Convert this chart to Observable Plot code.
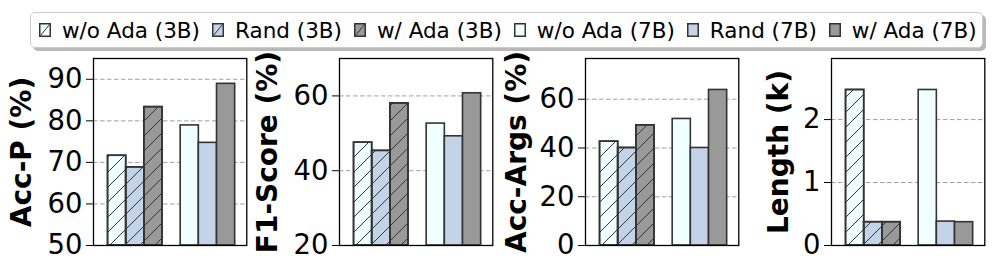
<!DOCTYPE html>
<html>
<head>
<meta charset="utf-8">
<script src="https://cdn.jsdelivr.net/npm/d3@7"></script>
<script src="https://cdn.jsdelivr.net/npm/@observablehq/plot@0.6"></script>
<style>
  body { margin: 0; background: #fff; font-family: "DejaVu Sans", sans-serif; }
  #wrap { position: relative; width: 996px; height: 274px; overflow: hidden; background: #fff; }
  #legend {
    position: absolute; left: 30px; top: 12px; width: 953px; height: 36px;
    box-sizing: border-box; border: 1px solid #cccccc; border-radius: 5px;
    box-shadow: 3px 3px 0 rgba(0,0,0,0.28); background: #fff;
    display: flex; align-items: center; padding-left: 8px;
    font-family: "DejaVu Sans"; font-size: 21.5px; color: #000; white-space: nowrap;
  }
  .item { display: inline-flex; align-items: center; margin-right: 12px; }
  .item svg { margin-right: 11px; display: block; }
</style>
</head>
<body>
<svg width="0" height="0" style="position:absolute">
  <defs>
    <pattern id="hatch" patternUnits="userSpaceOnUse" width="15" height="15">
      <path d="M-1,16 L16,-1 M-4,4 L4,-4 M11,19 L19,11" stroke="#333" stroke-width="1" fill="none"/>
    </pattern>
  </defs>
</svg>
<div id="wrap"><div id="legend"></div></div>
<script>
// ---- data ----
const groups = ["3B", "7B"];
const series = ["w/o Ada", "Rand", "w/ Ada"];
const seriesColors = ["#f0ffff", "#c4d4e8", "#999999"];

const accP3B = [71.6, 68.8, 83.3];
const accP7B = [78.9, 74.7, 88.9];
const accPTicks = [50, 60, 70, 80, 90];

const f13B = [47.5, 45.3, 58.0];
const f17B = [52.6, 49.2, 60.7];
const f1Ticks = [20, 40, 60];

const args3B = [42.6, 40.0, 49.3];
const args7B = [51.9, 40.0, 63.8];
const argsTicks = [0, 20, 40, 60];

const len3B = [2.47, 0.37, 0.37];
const len7B = [2.47, 0.38, 0.37];
const lenTicks = [0, 1, 2];

// ---- legend ----
const legend = document.getElementById("legend");
groups.forEach((g) => {
  series.forEach((s, si) => {
    const item = document.createElement("span");
    item.className = "item";
    const hatched = g === "3B";
    item.innerHTML =
      `<svg width="12" height="14"><rect x="0.75" y="0.75" width="10.5" height="12.5" fill="${seriesColors[si]}" stroke="#333" stroke-width="1.5"/>` +
      (hatched ? `<line x1="1.5" y1="12.5" x2="10.5" y2="1.5" stroke="#333" stroke-width="1"/>` : "") +
      `</svg><span>${s} (${g})</span>`;
    legend.appendChild(item);
  });
});

// ---- panels ----
const BAR_W = 0.25;
const ML = 92, MR = 4, MT = 4, MB = 24;
const FRAME_W = 153.3, FRAME_H = 187;

function rowsOf(v3, v7, base) {
  const rows = [];
  [v3, v7].forEach((vals, gi) => vals.forEach((v, si) => rows.push({
    group: groups[gi], series: series[si], value: v, base,
    pos: gi + (si - 1) * BAR_W, color: seriesColors[si], hatched: groups[gi] === "3B"
  })));
  return rows;
}

function panel({v3, v7, domain, ticks, label, frameLeft, labelOffset}) {
  const rows = rowsOf(v3, v7, domain[0]);
  const gridTicks = ticks.filter(t => t > domain[0]);
  const barOpts = {
    x1: d => d.pos - BAR_W / 2, x2: d => d.pos + BAR_W / 2,
    y1: "base", y2: "value", stroke: "#333", strokeWidth: 1.6
  };
  const chart = Plot.plot({
    width: ML + FRAME_W + MR,
    height: MT + FRAME_H + MB,
    marginLeft: ML, marginRight: MR, marginTop: MT, marginBottom: MB,
    style: {
      position: "absolute", left: (frameLeft - ML) + "px", top: "54px",
      background: "none", overflow: "visible", fontFamily: "DejaVu Sans",
      fontSize: "27.5px", color: "#000", maxWidth: "none"
    },
    x: {domain: [-0.575, 1.535], axis: null},
    y: {domain, nice: false, axis: null},
    color: {type: "identity"},
    marks: [
      Plot.gridY({ticks: gridTicks, stroke: "#a0a0a0", strokeOpacity: 1, strokeWidth: 1, strokeDasharray: "4.5,2.5"}),
      Plot.rect(rows, {...barOpts, fill: "color"}),
      Plot.rect(rows.filter(d => d.hatched), {...barOpts, fill: "url(#hatch)"}),
      Plot.frame({stroke: "#000", strokeWidth: 1.3}),
      Plot.axisY({ticks, tickSize: 7, tickPadding: 4, tickFormat: d3.format("d"), label: null, fontSize: 27.5, stroke: "#000", fill: "#000"}),
      Plot.text([label], {
        text: d => d, frameAnchor: "left", dx: -labelOffset, rotate: -90,
        textAnchor: "middle", lineAnchor: "middle", fontSize: 28, fontWeight: "bold", fill: "#000"
      })
    ]
  });
  document.getElementById("wrap").appendChild(chart);
}

panel({v3: accP3B, v7: accP7B, domain: [50, 95], ticks: accPTicks, label: "Acc-P (%)", frameLeft: 93, labelOffset: 71});
panel({v3: f13B, v7: f17B, domain: [20, 70], ticks: f1Ticks, label: "F1-Score (%)", frameLeft: 339.3, labelOffset: 71});
panel({v3: args3B, v7: args7B, domain: [0, 76.7], ticks: argsTicks, label: "Acc-Args (%)", frameLeft: 585, labelOffset: 68});
panel({v3: len3B, v7: len7B, domain: [0, 2.97], ticks: lenTicks, label: "Length (k)", frameLeft: 830.5, labelOffset: 52.5});
</script>
</body>
</html>
